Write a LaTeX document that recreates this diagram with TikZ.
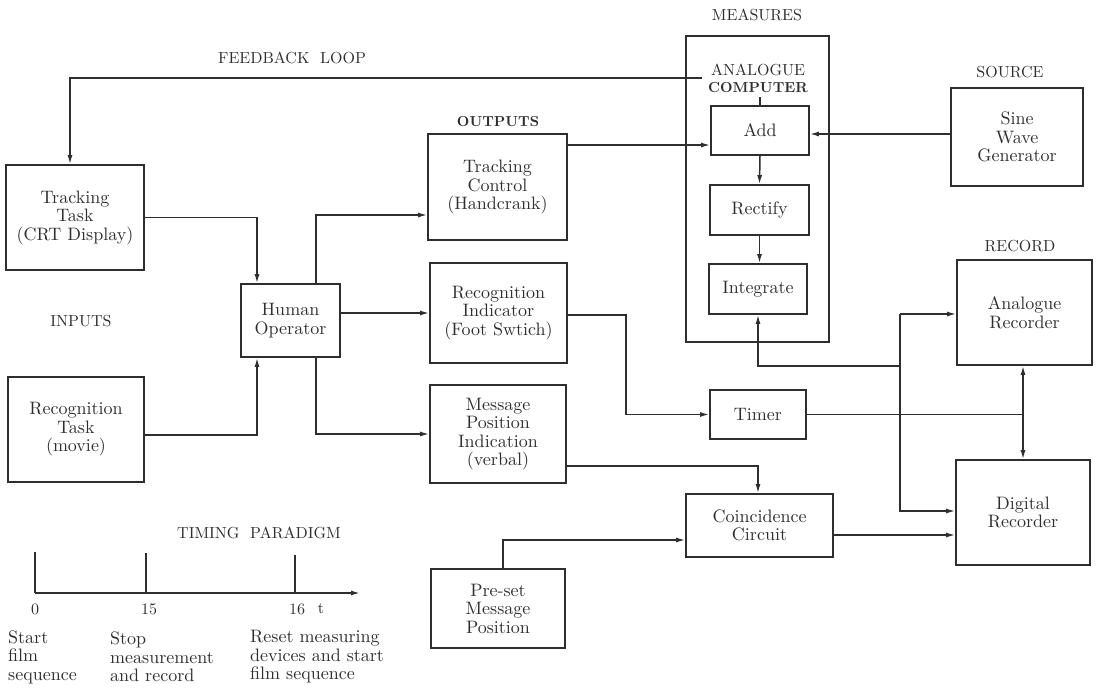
\documentclass[tikz,border=0pt]{standalone}
\usepackage{fontspec}
\setmainfont{lmroman10-regular.otf}[BoldFont=lmroman10-bold.otf]
\usetikzlibrary{arrows.meta,calc}
\definecolor{ink}{HTML}{2E2E2E}
\tikzset{
  blk/.style={draw=ink, line width=1.7pt, inner sep=0pt, align=center, text=ink,
              font=\fontsize{18}{18.5}\selectfont},
  lbl/.style={inner sep=0pt, text=ink, font=\fontsize{16}{18}\selectfont},
  bl/.style={inner sep=0pt, text=ink, font=\fontsize{14.5}{17}\selectfont\bfseries},
  wire/.style={draw=ink, line width=1.5pt},
  arr/.style={wire, -{Latex[length=9pt,width=5pt]}},
  note/.style={inner sep=0pt, text=ink, align=left, font=\fontsize{18}{18.5}\selectfont}
}
\begin{document}
\begin{tikzpicture}[x=1pt,y=-1pt]
\useasboundingbox (0,0) rectangle (1098,689);

% boxes
\node[blk, minimum width=138, minimum height=105] (TT) at (75,217.5) {Tracking\\Task\\(CRT Display)};
\node[blk, minimum width=136, minimum height=105] (RT) at (76,429.5) {Recognition\\Task\\(movie)};
\node[blk, minimum width=99, minimum height=73] (HO) at (290.5,320.5) {Human\\Operator};
\node[blk, minimum width=139, minimum height=106] (TC) at (497.5,187) {Tracking\\Control\\(Handcrank)};
\node[blk, minimum width=137, minimum height=100] (RI) at (498.5,313) {Recognition\\Indicator\\(Foot Swtich)};
\node[blk, minimum width=136, minimum height=98] (MPI) at (498,434) {Message\\Position\\Indication\\(verbal)};
\node[blk, minimum width=134, minimum height=79] (PS) at (498,608.5) {Pre-set\\Message\\Position};
\node[blk, minimum width=143, minimum height=306] (AC) at (757.5,189) {};
\node[blk, minimum width=98, minimum height=49] (Add) at (760,130.5) {Add};
\node[blk, minimum width=99, minimum height=50] (Rect) at (759.5,210) {Rectify};
\node[blk, minimum width=98, minimum height=50] (Integ) at (758,289) {Integrate};
\node[blk, minimum width=96, minimum height=49] (Timer) at (758,414.5) {Timer};
\node[blk, minimum width=147, minimum height=63] (CC) at (759.5,525.5) {Coincidence\\Circuit};
\node[blk, minimum width=132, minimum height=98] (SWG) at (1017,137) {Sine\\Wave\\Generator};
\node[blk, minimum width=135, minimum height=105] (AR) at (1024.5,312.5) {Analogue\\Recorder};
\node[blk, minimum width=134, minimum height=105] (DR) at (1023,512.5) {Digital\\Recorder};

% labels
\node[lbl] (lfb) at (292,58) {FEEDBACK\ \ LOOP};
\node[lbl] (lmeas) at (757,15) {MEASURES};
\node[lbl] (lana) at (758,70) {ANALOGUE};
\node[bl] (lcomp) at (758,88) {COMPUTER};
\node[bl] (lout) at (498,122) {OUTPUTS};
\node[lbl] (lsrc) at (1010,72) {SOURCE};
\node[lbl] (lrec) at (1020,246) {RECORD};
\node[lbl] (lin) at (81,321) {INPUTS};
\node[lbl] (ltim) at (259,533) {TIMING\ \ PARADIGM};

% junction coordinates
\coordinate (fb) at (702,78);
\coordinate (jTop) at (900,314);
\coordinate (jInt) at (900,366);
\coordinate (jRec) at (1023,414.5);

% connectors
\draw[arr] (fb) -| ([xshift=-5pt]TT.north);
\draw[wire] (Add.north) -- ++(0,-8);
\draw[arr] (TT.east) -| ([xshift=-33.5pt]HO.north);
\draw[arr] ([yshift=-5.5pt]RT.east) -| ([xshift=-33.5pt]HO.south);
\draw[arr] ([xshift=25.5pt]HO.north) |- ([yshift=-28pt]TC.west);
\draw[arr] (HO.east |- RI.west) -- (RI.west);
\draw[arr] ([xshift=25.5pt]HO.south) |- (MPI.west);
\draw[arr] ([yshift=42pt]TC.east) -- ([yshift=-14.5pt]Add.west);
\draw[arr] ([yshift=3pt]SWG.west) -- ([yshift=-3.5pt]Add.east);
\draw[arr] (Add.south) -- (Rect.north);
\draw[arr] (Rect.south) -- (Rect.south |- Integ.north);
\draw[arr] (jInt) -| (Integ.south);
\draw[wire] (jTop) -- (jInt);
\draw[arr] (jTop) -- (jTop -| AR.west);
\draw[arr] (jInt) |- ([yshift=1.5pt]DR.west);
\draw[wire] (Timer.east) -- (jRec);
\draw[arr] (jRec) -- (jRec |- AR.south);
\draw[arr] (jRec) -- (jRec |- DR.north);
\draw[arr] ([yshift=-2pt]RI.east) -- ++(58,0) |- (Timer.west);
\draw[arr] ([yshift=-32pt]MPI.east) -| ([xshift=-1.5pt]CC.north);
\draw[arr] ([xshift=5pt]PS.north) |- ([yshift=-14.5pt]CC.west);
\draw[arr] ([yshift=-9.5pt]CC.east) -- ([yshift=-22.5pt]DR.west);

% timing paradigm
\coordinate (t0) at (35,593);
\coordinate (tend) at (360,593);
\coordinate (t15) at (146,593);
\coordinate (t16) at (295,593);
\draw[arr] (t0) -- (tend);
\draw[wire] (t0) -- ++(0,-41);
\draw[wire] (t15) -- ++(0,-40);
\draw[wire] (t16) -- ++(0,-38);
\node[lbl] (n0) at (35,609) {0};
\node[lbl] (n15) at (149,609) {15};
\node[lbl] (n16) at (297,609) {16};
\node[lbl] (nt) at (321,609) {t};
\node[note, anchor=west] (s1) at (8,657) {Start\\film\\sequence};
\node[note, anchor=west] (s2) at (110,657) {Stop\\measurement\\and record};
\node[note, anchor=west] (s3) at (250,657) {Reset measuring\\devices and start\\film sequence};
\end{tikzpicture}
\end{document}
